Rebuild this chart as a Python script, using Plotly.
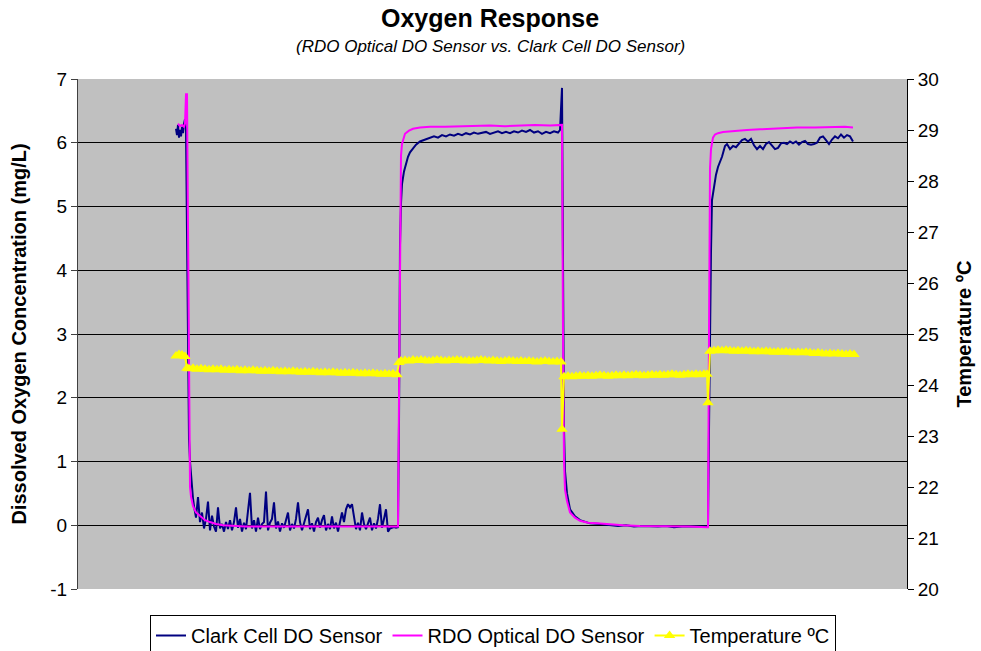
import plotly.graph_objects as go

# ---------------- data (elapsed time in seconds) -------------
# Clark Cell DO sensor (mg/L)
clark_t_start = list(range(101, 119))
clark_v_start = [6.22, 6.12, 6.28, 6.08, 6.2, 6.1, 6.25, 6.15, 6.3, 6.37, 6.2, 4.8, 2.5, 1.35, 1.0, 0.75, 0.55, 0.42]
clark_t_low1 = list(range(119, 324, 2))
clark_v_low1 = [0.30, 0.12, 0.44, 0.05, 0.20, -0.05, 0.10, 0.37, -0.08, 0.15,
                -0.02, -0.10, 0.28, -0.05, 0.02, -0.10, 0.05, -0.06, 0.08, -0.08,
                0.05, 0.28, -0.04, 0.10, -0.10, 0.04, -0.06, 0.20, 0.51, -0.05,
                0.08, -0.10, 0.12, -0.06, 0.02, 0.05, 0.53, -0.08, 0.04, 0.10,
                0.36, -0.05, 0.06, -0.10, 0.03, -0.04, 0.08, 0.20, -0.08, 0.02,
                -0.05, 0.10, 0.36, 0.05, -0.08, 0.04, 0.12, 0.25, -0.06, 0.03,
                -0.10, 0.05, 0.12, -0.04, 0.08, 0.16, -0.08, 0.02, -0.06, 0.14,
                -0.05, 0.04, -0.10, 0.06, 0.20, 0.05, 0.25, 0.33, 0.28, 0.33,
                0.10, -0.06, 0.04, -0.08, 0.20, 0.02, -0.06, 0.05, 0.12, -0.08,
                0.03, -0.05, 0.10, 0.33, -0.04, 0.10, 0.25, -0.10, -0.05, -0.04,
                -0.03, -0.04, -0.03]
clark_t_rise1 = [324, 325, 326, 327, 329, 331, 333, 335, 338, 341, 345, 350, 355]
clark_v_rise1 = [1.6, 4.4, 5.05, 5.35, 5.55, 5.68, 5.78, 5.85, 5.92, 5.97, 6.02, 6.05, 6.08]
clark_t_high1 = list(range(359, 484, 4))
clark_v_high1 = [6.1, 6.08, 6.12, 6.1, 6.13, 6.11, 6.14, 6.12, 6.15, 6.13,
                 6.16, 6.14, 6.15, 6.17, 6.14, 6.16, 6.18, 6.15, 6.17, 6.15,
                 6.18, 6.16, 6.19, 6.17, 6.2, 6.16, 6.18, 6.14, 6.17, 6.15,
                 6.18, 6.16]
clark_t_drop = [485, 487, 488, 489, 490, 492, 495, 500, 505, 510, 515, 525]
clark_v_drop = [6.2, 6.86, 4.0, 1.5, 0.85, 0.5, 0.25, 0.14, 0.08, 0.05, 0.03, 0.02]
clark_t_low2 = list(range(535, 632, 8))
clark_v_low2 = [0.0, -0.01, 0.0, -0.02, -0.01, -0.02, -0.02, -0.01, -0.03, -0.02, -0.02, -0.03, -0.02]
clark_t_rise2 = [633, 634, 635, 636, 637, 639, 641, 643, 645, 647, 650, 652, 655]
clark_v_rise2 = [-0.02, 1.5, 3.4, 4.3, 5.1, 5.3, 5.5, 5.62, 5.7, 5.78, 5.95, 5.98, 5.9]
clark_t_high2 = list(range(658, 779, 3))
clark_v_high2 = [5.95, 5.93, 5.98, 6.04, 6.06, 6.02, 6.06, 5.96, 5.9, 5.95,
                 5.9, 5.98, 6.01, 5.96, 5.9, 5.92, 5.99, 6.0, 5.98, 6.02,
                 5.99, 6.02, 5.97, 6.01, 6.03, 5.98, 5.97, 5.98, 6.0, 6.08,
                 6.1, 6.04, 5.98, 6.05, 6.1, 6.07, 6.13, 6.08, 6.12, 6.1,
                 6.02]

# RDO Optical DO sensor (mg/L)
rdo_t = [103, 105, 107, 109, 110, 111, 112, 114, 115, 116, 118, 121, 125, 130, 135, 141, 148,
         155, 170, 185, 200, 215, 230, 245, 260, 275, 290, 305, 320, 323,
         324, 325, 326, 327, 330, 334, 338, 345,
         355, 370, 385, 400, 415, 430, 445, 460, 475, 486,
         487, 488, 489, 490, 492, 495, 500, 505, 513, 522, 535, 548, 565, 580, 598, 615, 632,
         633, 634, 635, 636, 637, 638, 640, 643, 648, 660, 672, 685, 700, 722, 740, 755, 770, 778]
rdo_v = [6.3, 6.26, 6.28, 6.25, 6.3, 6.76, 6.76, 2.0, 0.6, 0.45, 0.3, 0.2, 0.14, 0.08, 0.05, 0.02, 0.0,
         -0.01, -0.02, -0.02, -0.02, -0.03, -0.02, -0.03, -0.03, -0.02, -0.03, -0.03, -0.03, -0.02,
         2.0, 5.0, 5.8, 5.98, 6.14, 6.19, 6.22, 6.24,
         6.25, 6.25, 6.26, 6.26, 6.27, 6.26, 6.27, 6.28, 6.27, 6.28,
         6.28, 3.0, 1.0, 0.56, 0.38, 0.2, 0.12, 0.07, 0.04, 0.03, 0.01, 0.0, -0.01, -0.01, -0.02, -0.02, -0.03,
         -0.03, 3.0, 5.6, 5.9, 6.0, 6.08, 6.13, 6.15, 6.17, 6.19, 6.2, 6.21, 6.22, 6.24, 6.24, 6.25, 6.25, 6.24]

# Temperature (deg C)
temp_t_a = [101, 104, 107, 110, 112]
temp_v_a = [24.57, 24.60, 24.59, 24.56, 24.33]
temp_t_b = list(range(114, 323, 4))
temp_v_b = [24.32, 24.33, 24.31, 24.32, 24.31, 24.30, 24.31, 24.30, 24.31, 24.29,
            24.30, 24.29, 24.30, 24.28, 24.29, 24.28, 24.29, 24.28, 24.27, 24.28,
            24.27, 24.28, 24.27, 24.26, 24.27, 24.26, 24.27, 24.26, 24.25, 24.26,
            24.25, 24.26, 24.25, 24.24, 24.25, 24.24, 24.25, 24.24, 24.23, 24.24,
            24.23, 24.24, 24.23, 24.22, 24.23, 24.22, 24.23, 24.22, 24.21, 24.22,
            24.21, 24.22, 24.20]
temp_t_c = [324] + list(range(326, 487, 4)) + [487]
temp_v_c = [24.44,
            24.47, 24.48, 24.47, 24.49, 24.48, 24.49, 24.48, 24.47, 24.48, 24.49,
            24.48, 24.47, 24.48, 24.48, 24.49, 24.48, 24.47, 24.48, 24.47, 24.48,
            24.49, 24.48, 24.47, 24.48, 24.47, 24.46, 24.47, 24.48, 24.47, 24.46,
            24.47, 24.46, 24.47, 24.46, 24.45, 24.46, 24.47, 24.46, 24.45, 24.46,
            24.45,
            23.13]
temp_t_d = list(range(489, 630, 4)) + [632, 633]
temp_v_d = [24.16, 24.17, 24.16, 24.17, 24.18, 24.17, 24.18, 24.17, 24.18, 24.19,
            24.18, 24.17, 24.18, 24.19, 24.18, 24.19, 24.18, 24.19, 24.20, 24.19,
            24.18, 24.19, 24.20, 24.19, 24.20, 24.19, 24.20, 24.21, 24.20, 24.19,
            24.20, 24.21, 24.20, 24.21, 24.20, 24.21,
            24.21, 23.65]
temp_t_e = list(range(635, 780, 4))
temp_v_e = [24.66, 24.67, 24.68, 24.67, 24.68, 24.67, 24.66, 24.67, 24.66, 24.67,
            24.66, 24.65, 24.66, 24.65, 24.66, 24.65, 24.64, 24.65, 24.64, 24.65,
            24.64, 24.63, 24.64, 24.63, 24.64, 24.63, 24.62, 24.63, 24.62, 24.61,
            24.62, 24.61, 24.62, 24.61, 24.60, 24.61, 24.60]

clark_t = clark_t_start + clark_t_low1 + clark_t_rise1 + clark_t_high1 + clark_t_drop + clark_t_low2 + clark_t_rise2 + clark_t_high2
clark_v = clark_v_start + clark_v_low1 + clark_v_rise1 + clark_v_high1 + clark_v_drop + clark_v_low2 + clark_v_rise2 + clark_v_high2
temp_t = temp_t_a + temp_t_b + temp_t_c + temp_t_d + temp_t_e
temp_v = temp_v_a + temp_v_b + temp_v_c + temp_v_d + temp_v_e

do_ticks = [-1, 0, 1, 2, 3, 4, 5, 6, 7]
do_tick_labels = ["-1", "0", "1", "2", "3", "4", "5", "6", "7"]
temp_ticks = [20, 21, 22, 23, 24, 25, 26, 27, 28, 29, 30]

FONT = "Liberation Sans, Arial, sans-serif"
ML, MR, MT, MB = 78, 74, 79, 62
W, H = 981, 651
PW, PH = W - ML - MR, H - MT - MB

fig = go.Figure()
fig.add_trace(go.Scatter(x=clark_t, y=clark_v, mode="lines", name="Clark Cell DO Sensor",
                         line=dict(color="#000080", width=2)))
fig.add_trace(go.Scatter(x=rdo_t, y=rdo_v, mode="lines", name="RDO Optical DO Sensor",
                         line=dict(color="#FF00FF", width=2)))
fig.add_trace(go.Scatter(x=temp_t, y=temp_v, mode="lines+markers", name="Temperature ºC", yaxis="y2",
                         line=dict(color="#FFFF00", width=2),
                         marker=dict(symbol="triangle-up", size=10, color="#FFFF00")))

fig.update_layout(
    width=W, height=H,
    margin=dict(l=ML, r=MR, t=MT, b=MB, autoexpand=False),
    paper_bgcolor="white", plot_bgcolor="#C0C0C0",
    font=dict(family=FONT, size=19, color="black"),
    showlegend=True,
    legend=dict(orientation="h", x=(493 - ML) / PW, xanchor="center",
                y=-26 / PH, yanchor="top",
                bordercolor="black", borderwidth=1, bgcolor="white",
                font=dict(size=20), tracegroupgap=0, itemwidth=30),
    xaxis=dict(range=[3, 832], showticklabels=False, showgrid=False, zeroline=False,
               showline=False, ticks="", automargin=False),
    yaxis=dict(range=[-1, 7], tickvals=do_ticks, ticktext=do_tick_labels,
               showgrid=True, gridcolor="#000000", gridwidth=1,
               zeroline=False, showline=True, linecolor="#404040", linewidth=1,
               ticks="outside", ticklen=6, tickcolor="#404040", automargin=False,
               title=dict(text="<b>Dissolved Oxygen Concentration (mg/L)</b>", font=dict(size=20), standoff=18)),
    yaxis2=dict(range=[20, 30], tickvals=temp_ticks, overlaying="y", side="right", showgrid=False,
                zeroline=False, showline=True, linecolor="#000000", linewidth=1,
                ticks="outside", ticklen=6, tickcolor="#000000", automargin=False,
                title=dict(text="<b>Temperature ºC</b>", font=dict(size=20), standoff=18)),
    annotations=[
        dict(text="<b>Oxygen Response</b>", x=(490 - ML) / PW, y=(H - MB - 18) / PH,
             xref="paper", yref="paper", yanchor="middle", showarrow=False, font=dict(size=25)),
        dict(text="<i>(RDO Optical DO Sensor vs. Clark Cell DO Sensor)</i>", x=(490 - ML) / PW,
             y=(H - MB - 46) / PH, yanchor="middle",
             xref="paper", yref="paper", showarrow=False, font=dict(size=17)),
    ],
)

fig.write_html("out.html", config={"responsive": False, "displayModeBar": False},
               post_script="document.body.style.margin='0';document.body.style.overflow='hidden';")
